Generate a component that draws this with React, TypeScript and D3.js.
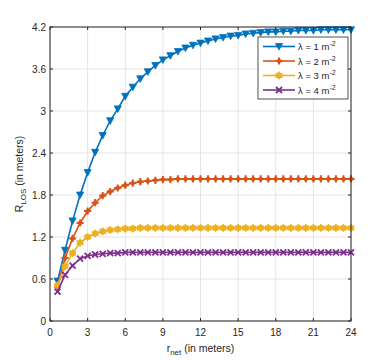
import React, { useEffect, useRef } from 'react';
import * as d3 from 'd3';

// r_net sample positions (meters)
const rNet = [
  0.6, 1.2, 1.8, 2.4, 3.0, 3.6, 4.2, 4.8, 5.4, 6.0,
  6.6, 7.2, 7.8, 8.4, 9.0, 9.6, 10.2, 10.8, 11.4, 12.0,
  12.6, 13.2, 13.8, 14.4, 15.0, 15.6, 16.2, 16.8, 17.4, 18.0,
  18.6, 19.2, 19.8, 20.4, 21.0, 21.6, 22.2, 22.8, 23.4, 24.0,
];

const rLos1 = [
  0.57, 1.01, 1.43, 1.80, 2.12, 2.41, 2.65, 2.86, 3.03, 3.21,
  3.34, 3.46, 3.56, 3.65, 3.73, 3.79, 3.85, 3.90, 3.94, 3.97,
  4.00, 4.03, 4.05, 4.07, 4.08, 4.10, 4.11, 4.12, 4.13, 4.13,
  4.14, 4.14, 4.15, 4.15, 4.15, 4.16, 4.16, 4.16, 4.16, 4.16,
];
const rLos2 = [
  0.49, 0.90, 1.18, 1.40, 1.57, 1.69, 1.79, 1.85, 1.90, 1.94,
  1.97, 1.99, 2.00, 2.01, 2.02, 2.02, 2.03, 2.03, 2.03, 2.03,
  2.03, 2.03, 2.03, 2.03, 2.03, 2.03, 2.03, 2.03, 2.03, 2.03,
  2.03, 2.03, 2.03, 2.03, 2.03, 2.03, 2.03, 2.03, 2.03, 2.03,
];
const rLos3 = [
  0.51, 0.78, 0.97, 1.12, 1.20, 1.25, 1.28, 1.30, 1.31, 1.32,
  1.32, 1.33, 1.33, 1.33, 1.33, 1.33, 1.33, 1.33, 1.33, 1.33,
  1.33, 1.33, 1.33, 1.33, 1.33, 1.33, 1.33, 1.33, 1.33, 1.33,
  1.33, 1.33, 1.33, 1.33, 1.33, 1.33, 1.33, 1.33, 1.33, 1.33,
];
const rLos4 = [
  0.42, 0.66, 0.79, 0.89, 0.93, 0.95, 0.96, 0.97, 0.97, 0.98,
  0.98, 0.98, 0.98, 0.98, 0.98, 0.98, 0.98, 0.98, 0.98, 0.98,
  0.98, 0.98, 0.98, 0.98, 0.98, 0.98, 0.98, 0.98, 0.98, 0.98,
  0.98, 0.98, 0.98, 0.98, 0.98, 0.98, 0.98, 0.98, 0.98, 0.98,
];

const lambdas = ['1', '2', '3', '4'];
const seriesColors = ['#0072BD', '#D95319', '#EDB120', '#7E2F8E'];
const markerKinds = ['triangleDown', 'asterisk', 'hexagram', 'cross'];

const xTicks = [0, 3, 6, 9, 12, 15, 18, 21, 24];
const yTicks = [0, 0.6, 1.2, 1.8, 2.4, 3, 3.6, 4.2];

const W = 388;
const H = 360;
const margin = { left: 50, right: 37, top: 27, bottom: 39 };

// 6-point star path centred on (x, y)
function hexagramPath(x: number, y: number, ro: number, ri: number) {
  const pts: string[] = [];
  for (let i = 0; i < 12; i++) {
    const a = (Math.PI / 6) * i - Math.PI / 2;
    const r = i % 2 === 0 ? ro : ri;
    pts.push(`${x + r * Math.cos(a)},${y + r * Math.sin(a)}`);
  }
  return `M${pts.join('L')}Z`;
}

// draw one marker glyph into a group
function drawMarker(g: any, kind: string, color: string, x: number, y: number) {
  if (kind === 'triangleDown') {
    g.append('path')
      .attr('d', `M${x - 3.6},${y - 3} L${x + 3.6},${y - 3} L${x},${y + 3.6} Z`)
      .attr('fill', color)
      .attr('stroke', color)
      .attr('stroke-width', 0.8);
  } else if (kind === 'asterisk') {
    g.append('path')
      .attr('d', `M${x - 3.6},${y} L${x + 3.6},${y} M${x},${y - 3.6} L${x},${y + 3.6}`)
      .attr('stroke', color)
      .attr('stroke-width', 2);
    g.append('circle').attr('cx', x).attr('cy', y).attr('r', 2.2).attr('fill', color);
  } else if (kind === 'hexagram') {
    g.append('path')
      .attr('d', hexagramPath(x, y, 3.8, 2.6))
      .attr('fill', color)
      .attr('stroke', color)
      .attr('stroke-width', 0.8);
  } else {
    g.append('path')
      .attr('d', `M${x - 3},${y - 3} L${x + 3},${y + 3} M${x - 3},${y + 3} L${x + 3},${y - 3}`)
      .attr('stroke', color)
      .attr('stroke-width', 1.8);
  }
}

const App = () => {
  const ref = useRef<SVGSVGElement>(null);

  useEffect(() => {
    const svg = d3.select(ref.current);
    svg.selectAll('*').remove();

    const x = d3.scaleLinear().domain([0, 24]).range([margin.left, W - margin.right]);
    const y = d3.scaleLinear().domain([0, 4.2]).range([H - margin.bottom, margin.top]);
    const font = 'Liberation Sans, Arial, sans-serif';
    const txt = '#262626';

    svg.append('rect').attr('width', W).attr('height', H).attr('fill', '#fff');

    // grid
    const grid = svg.append('g');
    xTicks.forEach(t => {
      grid.append('line')
        .attr('x1', x(t)).attr('x2', x(t))
        .attr('y1', y(0)).attr('y2', y(4.2))
        .attr('stroke', '#e5e5e5').attr('stroke-width', 1);
    });
    yTicks.forEach(t => {
      grid.append('line')
        .attr('x1', x(0)).attr('x2', x(24))
        .attr('y1', y(t)).attr('y2', y(t))
        .attr('stroke', '#e5e5e5').attr('stroke-width', 1);
    });

    // series
    const allSeries = [rLos1, rLos2, rLos3, rLos4];
    const line = d3.line<number>()
      .x((d, i) => x(rNet[i]))
      .y(d => y(d));

    allSeries.forEach((vals, k) => {
      const g = svg.append('g');
      g.append('path')
        .datum(vals)
        .attr('d', line)
        .attr('fill', 'none')
        .attr('stroke', seriesColors[k])
        .attr('stroke-width', 1.6);
      vals.forEach((v, i) => drawMarker(g, markerKinds[k], seriesColors[k], x(rNet[i]), y(v)));
    });

    // axes box
    const ax = svg.append('g');
    ax.append('rect')
      .attr('x', x(0)).attr('y', y(4.2))
      .attr('width', x(24) - x(0)).attr('height', y(0) - y(4.2))
      .attr('fill', 'none').attr('stroke', '#262626').attr('stroke-width', 1);

    xTicks.forEach(t => {
      ax.append('line').attr('x1', x(t)).attr('x2', x(t))
        .attr('y1', y(0)).attr('y2', y(0) - 3).attr('stroke', '#262626');
      ax.append('line').attr('x1', x(t)).attr('x2', x(t))
        .attr('y1', y(4.2)).attr('y2', y(4.2) + 3).attr('stroke', '#262626');
      ax.append('text')
        .attr('x', x(t)).attr('y', y(0) + 15)
        .attr('text-anchor', 'middle')
        .attr('font-family', font).attr('font-size', 10).attr('fill', txt)
        .text(t);
    });
    yTicks.forEach(t => {
      ax.append('line').attr('x1', x(0)).attr('x2', x(0) + 3)
        .attr('y1', y(t)).attr('y2', y(t)).attr('stroke', '#262626');
      ax.append('line').attr('x1', x(24)).attr('x2', x(24) - 3)
        .attr('y1', y(t)).attr('y2', y(t)).attr('stroke', '#262626');
      ax.append('text')
        .attr('x', x(0) - 4).attr('y', y(t) + 3.5)
        .attr('text-anchor', 'end')
        .attr('font-family', font).attr('font-size', 10).attr('fill', txt)
        .text(t);
    });

    // x label
    const xl = svg.append('text')
      .attr('x', x(12)).attr('y', H - 8)
      .attr('text-anchor', 'middle')
      .attr('font-family', font).attr('font-size', 10.5).attr('fill', txt);
    xl.append('tspan').text('r');
    xl.append('tspan').attr('font-size', 8).attr('dy', 3).text('net');
    xl.append('tspan').attr('dy', -3).text(' (in meters)');

    // y label
    const yl = svg.append('text')
      .attr('transform', `translate(23,${y(2.1)}) rotate(-90)`)
      .attr('text-anchor', 'middle')
      .attr('font-family', font).attr('font-size', 10.5).attr('fill', txt);
    yl.append('tspan').text('R');
    yl.append('tspan').attr('font-size', 8).attr('dy', 3).text('LOS');
    yl.append('tspan').attr('dy', -3).text(' (in meters)');

    // legend
    const lg = svg.append('g');
    const lx = 258;
    const ly = 37;
    lg.append('rect')
      .attr('x', lx).attr('y', ly).attr('width', 90).attr('height', 62)
      .attr('fill', '#fff').attr('stroke', '#262626').attr('stroke-width', 0.8);
    lambdas.forEach((lam, k) => {
      const yy = ly + 9.5 + k * 14.5;
      lg.append('line')
        .attr('x1', lx + 5).attr('x2', lx + 37).attr('y1', yy).attr('y2', yy)
        .attr('stroke', seriesColors[k]).attr('stroke-width', 1.6);
      drawMarker(lg, markerKinds[k], seriesColors[k], lx + 21, yy);
      const t = lg.append('text')
        .attr('x', lx + 40).attr('y', yy + 3.5)
        .attr('font-family', font).attr('font-size', 9.5).attr('fill', txt);
      t.append('tspan').text(`λ = ${lam} m`);
      t.append('tspan').attr('font-size', 7).attr('dy', -4).text('-2');
    });
  }, []);

  return <svg ref={ref} width={W} height={H} style={{ position: 'absolute', left: 0, top: 0 }} />;
};

export default App;
